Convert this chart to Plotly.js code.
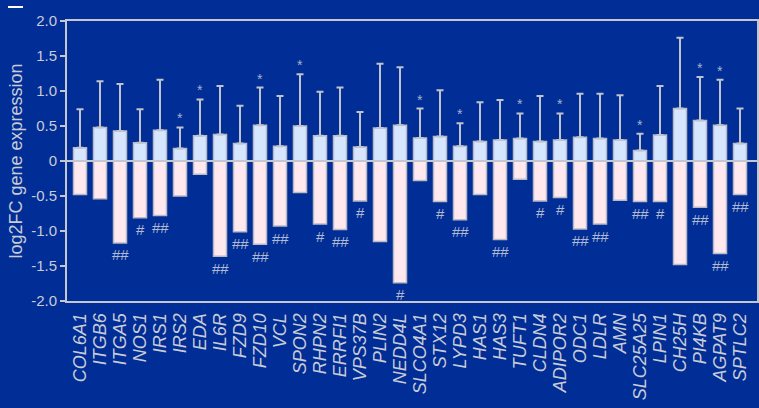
<!DOCTYPE html>
<html>
<head>
<meta charset="utf-8">
<script src="https://cdn.plot.ly/plotly-3.0.1.min.js"></script>
<style>html,body{margin:0;padding:0;background:#002e96;}#chart{width:759px;height:408px;}</style>
</head>
<body>
<div id="chart"></div>
<script>
var genes = ['COL6A1','ITGB6','ITGA5','NOS1','IRS1','IRS2','EDA','IL6R','FZD9','FZD10','VCL','SPON2','RHPN2','ERRFI1','VPS37B','PLIN2','NEDD4L','SLCO4A1','STX12','LYPD3','HAS1','HAS3','TUFT1','CLDN4','ADIPOR2','ODC1','LDLR','AMN','SLC25A25','LPIN1','CH25H','PI4KB','AGPAT9','SPTLC2'];
var upValues = [0.19,0.48,0.43,0.26,0.44,0.18,0.36,0.38,0.25,0.51,0.21,0.50,0.36,0.36,0.20,0.47,0.51,0.33,0.35,0.21,0.28,0.30,0.32,0.28,0.30,0.34,0.32,0.30,0.15,0.37,0.75,0.58,0.51,0.25];
var upErr = [0.55,0.66,0.67,0.48,0.72,0.30,0.52,0.69,0.54,0.54,0.72,0.74,0.63,0.69,0.50,0.92,0.83,0.42,0.66,0.33,0.56,0.57,0.36,0.65,0.38,0.62,0.64,0.64,0.24,0.70,1.01,0.62,0.65,0.50];
var downValues = [-0.48,-0.54,-1.17,-0.81,-0.78,-0.50,-0.19,-1.36,-1.01,-1.19,-0.93,-0.45,-0.90,-0.98,-0.57,-1.15,-1.74,-0.28,-0.58,-0.84,-0.48,-1.12,-0.26,-0.57,-0.52,-0.97,-0.90,-0.56,-0.58,-0.58,-1.48,-0.66,-1.32,-0.48];
var upSig = ['','','','','','*','*','','','*','','*','','','','','','*','','*','','','*','','*','','','','*','','','*','*',''];
var downSig = ['','','##','#','##','','','##','##','##','##','','#','##','#','','#','','#','##','','##','','#','#','##','##','','##','#','','##','##','##'];
var yTickVals = [-2,-1.5,-1,-0.5,0,0.5,1,1.5,2];
var yTickText = ['-2.0','-1.5','-1.0','-0.5','0','0.5','1.0','1.5','2.0'];

var txt = '#c9cbd6';
var lineCol = '#c4c6d0';
var barLine = '#b9bac6';

var traceUp = {
  type: 'bar', x: genes, y: upValues, width: 0.65,
  marker: {color: '#d7e6ff', line: {color: barLine, width: 1.5}},
  error_y: {type: 'data', symmetric: false, array: upErr, arrayminus: upErr.map(function(){return 0;}),
            color: '#c0c2cc', thickness: 2, width: 3.5},
  hoverinfo: 'x+y', showlegend: false
};
var traceDown = {
  type: 'bar', x: genes, y: downValues, width: 0.65,
  marker: {color: '#ffe9ef', line: {color: barLine, width: 1.5}},
  hoverinfo: 'x+y', showlegend: false
};

var annotations = [];
genes.forEach(function(g, i){
  if (upSig[i]) {
    annotations.push({x: g, y: upValues[i] + upErr[i], xref: 'x', yref: 'y', text: upSig[i],
      showarrow: false, yanchor: 'middle', yshift: 9, font: {family: 'Liberation Sans', size: 14, color: '#a9b0cc'}});
  }
  if (downSig[i]) {
    annotations.push({x: g, y: downValues[i], xref: 'x', yref: 'y', text: downSig[i],
      showarrow: false, yanchor: 'middle', yshift: -12, font: {family: 'Liberation Sans', size: 15, color: '#b4bad2'}});
  }
});

var layout = {
  width: 759, height: 408,
  margin: {l: 67, r: 2, t: 21, b: 107},
  paper_bgcolor: '#002e96', plot_bgcolor: '#002e96',
  barmode: 'overlay',
  font: {family: 'Liberation Sans', color: txt},
  xaxis: {
    type: 'category', range: [-0.65, 33.85], showgrid: false, zeroline: false,
    tickmode: 'array', tickvals: genes, ticktext: genes, ticklabelstandoff: 3,
    showline: true, linecolor: lineCol, linewidth: 2, mirror: true,
    ticks: '', tickangle: -90, tickfont: {family: 'Liberation Sans', size: 18, color: txt, style: 'italic'},
    automargin: false, fixedrange: true
  },
  yaxis: {
    range: [-2, 2], tickvals: yTickVals, ticktext: yTickText, showgrid: false, zeroline: false,
    showline: true, linecolor: lineCol, linewidth: 2, mirror: true,
    ticks: 'outside', ticklen: 5, tickwidth: 2, tickcolor: lineCol,
    tickfont: {family: 'Liberation Sans', size: 15, color: txt},
    title: {text: 'log2FC gene expression', font: {family: 'Liberation Sans', size: 18, color: txt}, standoff: 4},
    automargin: false, fixedrange: true
  },
  shapes: [
    {type: 'line', xref: 'paper', yref: 'y', x0: 0, x1: 1, y0: 0, y1: 0, layer: 'above', line: {color: lineCol, width: 2}},
    {type: 'line', xref: 'paper', yref: 'paper', x0: -0.0855, x1: -0.0638, y0: 1.05, y1: 1.05, line: {color: '#ffffff', width: 2}}
  ],
  annotations: annotations
};

Plotly.newPlot('chart', [traceDown, traceUp], layout, {displayModeBar: false, staticPlot: true});
</script>
</body>
</html>
